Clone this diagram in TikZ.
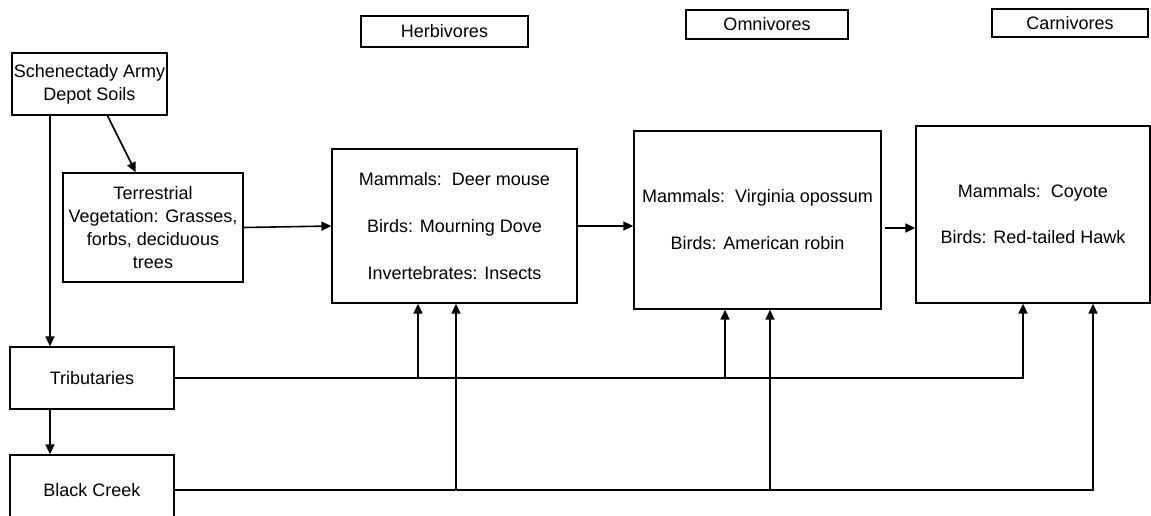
\documentclass[tikz,border=0pt]{standalone}
\usepackage{fontspec}
\setmainfont{Liberation Sans}
\usetikzlibrary{arrows.meta, calc}

\begin{document}
\begin{tikzpicture}[x=1pt, y=-1pt,
  box/.style={draw, line width=1.3pt, align=center, inner sep=0pt,
    font=\fontsize{18}{23}\selectfont},
  flow/.style={line width=1.6pt, -{Triangle[length=10pt, width=9pt]}}]
\clip (0,0) rectangle (1151,515);

\node[box, minimum width=155pt, minimum height=62pt] (soils) at (89.5,84) {Schenectady Army\\Depot Soils};
\node[box, minimum width=180pt, minimum height=109pt] (veg) at (153,227.5) {Terrestrial\\Vegetation: Grasses,\\forbs, deciduous\\trees};
\node[box, minimum width=164pt, minimum height=62pt] (trib) at (92,378) {Tributaries};
\node[box, minimum width=164pt, minimum height=70pt] (creek) at (92,490) {Black Creek};

\node[box, minimum width=167pt, minimum height=31pt] (herblab) at (444.5,31.5) {Herbivores};
\node[box, minimum width=162pt, minimum height=29pt] (omnilab) at (767,24.5) {Omnivores};
\node[box, minimum width=156pt, minimum height=28pt] (carnilab) at (1070,23) {Carnivores};

\node[box, minimum width=245pt, minimum height=154pt] (herb) at (454.5,226) {Mammals:\ \ Deer mouse\\[24pt]Birds: Mourning Dove\\[24pt]Invertebrates: Insects};
\node[box, minimum width=247pt, minimum height=178pt] (omni) at (757.5,220) {Mammals:\ \ Virginia opossum\\[24pt]Birds: American robin};
\node[box, minimum width=234pt, minimum height=177pt] (carni) at (1033,214.5) {Mammals:\ \ Coyote\\[23pt]Birds: Red-tailed Hawk};

\coordinate (xl) at (50,0);
\coordinate (t1) at (418,0);
\coordinate (t2) at (725,0);
\coordinate (t3) at (1023,0);
\coordinate (b1) at (456,0);
\coordinate (b2) at (770,0);
\coordinate (b3) at (1093,0);

\draw[flow] (soils.south -| xl) -- (trib.north -| xl);
\draw[flow] (trib.south -| xl) -- (creek.north -| xl);
\draw[flow] ($(soils.south)!0.23!(soils.south east)$) -- ($(veg.north)!0.19!(veg.north west)$);
\draw[flow] (veg.east) -- (herb.west);
\draw[flow] (herb.east) -- (herb.east -| omni.west);
\draw[flow] ([xshift=3pt, yshift=-8pt]omni.east) -- ([yshift=-8pt]omni.east -| carni.west);

\draw[flow] (trib.east) -| (t3 |- carni.south);
\draw[flow] (trib.east -| t1) -- (t1 |- herb.south);
\draw[flow] (trib.east -| t2) -- (t2 |- omni.south);
\draw[flow] (creek.east) -| (b3 |- carni.south);
\draw[flow] (creek.east -| b1) -- (b1 |- herb.south);
\draw[flow] (creek.east -| b2) -- (b2 |- omni.south);
\end{tikzpicture}
\end{document}
